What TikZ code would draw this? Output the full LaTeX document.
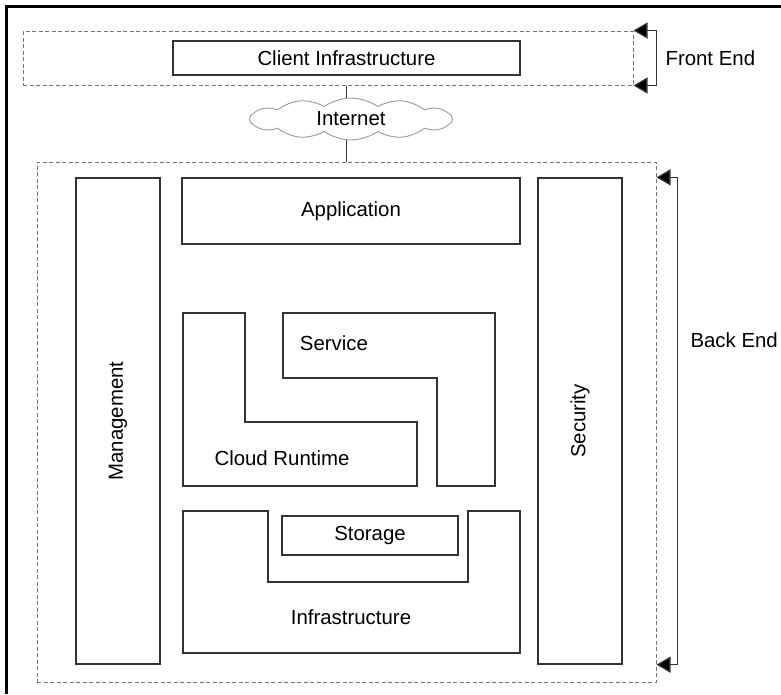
\documentclass[tikz,border=0pt]{standalone}
\usepackage{fontspec}
\setmainfont{Liberation Sans}
\usetikzlibrary{shapes.symbols, arrows.meta, backgrounds}
\tikzstyle{block} = [rectangle, minimum width=3cm, minimum height=1cm, text centered, inner sep=0pt, draw=black!80, line width=1.3pt, font=\fontsize{20.4}{23}\selectfont]
\tikzstyle{tier} = [rectangle, inner sep=0pt, draw=black!55, dash pattern=on 4pt off 2.5pt, line width=1pt]
\tikzstyle{partbox} = [draw=black!80, line width=1.3pt]
\tikzstyle{partname} = [font=\fontsize{20.4}{23}\selectfont]
\tikzstyle{sidetext} = [anchor=west, font=\fontsize{20.4}{23}\selectfont]
\tikzstyle{net} = [cloud, cloud puffs=12, cloud puff arc=70, cloud ignores aspect, minimum width=203pt, minimum height=42pt, inner sep=0pt, draw=black!40, line width=0.9pt, fill=white, font=\fontsize{20.4}{23}\selectfont]
\tikzstyle{link} = [draw=black!80, line width=1.3pt]
\tikzstyle{bracket} = [draw=black!80, line width=1.3pt, {Triangle[length=14pt,width=16pt,fill=black]}-{Triangle[length=14pt,width=16pt,fill=black]}]

\begin{document}
\begin{tikzpicture}[x=1pt, y=-1pt]
    \useasboundingbox (0,0) rectangle (781,694);
    \draw[line width=3pt] (6,694) -- (6,6) -- (781,6);

    % front end
    \node (front) [tier, minimum width=610pt, minimum height=54pt] at (328,58) {};
    \node (client) [block, minimum width=347pt, minimum height=34pt] at (346.5,58) {Client Infrastructure};
    \node (internet) [net] at (351,119) {Internet};

    % back end
    \node (back) [tier, minimum width=619pt, minimum height=520pt] at (346.5,422) {};
    \node (mgmt) [block, rotate=90, minimum width=486pt, minimum height=84pt] at (118,421) {Management};
    \node (app) [block, minimum width=338pt, minimum height=66pt] at (351,211) {Application};
    \node (secu) [block, rotate=90, minimum width=486pt, minimum height=84pt] at (580,421) {Security};

    \draw[partbox] (183,313) -- (245,313) -- (245,422) -- (417,422) -- (417,486) -- (183,486) -- cycle;
    \node (runtime) [partname] at (282,458) {Cloud Runtime};
    \draw[partbox] (283,313) -- (495,313) -- (495,486) -- (437,486) -- (437,378) -- (283,378) -- cycle;
    \node (service) [partname] at (334,343) {Service};
    \draw[partbox] (183,511) -- (268,511) -- (268,582) -- (468,582) -- (468,511) -- (520,511) -- (520,653) -- (183,653) -- cycle;
    \node (infra) [partname] at (351,617) {Infrastructure};
    \node (storage) [block, minimum width=176pt, minimum height=39pt] at (370,535.5) {Storage};

    \begin{scope}[on background layer]
        \draw[link] (client |- front.south) -- (client |- internet.center);
        \draw[link] (client |- internet.center) -- (client |- back.north);
    \end{scope}

    \draw[bracket] (front.north east) -- ++(23,0) |- (front.south east);
    \node (fe) [sidetext] at (662,58) {Front End};
    \draw[bracket] (back.east |- secu.east) -- ++(21,0) |- (back.east |- secu.west);
    \node (be) [sidetext] at (687,340) {Back End};
\end{tikzpicture}
\end{document}
